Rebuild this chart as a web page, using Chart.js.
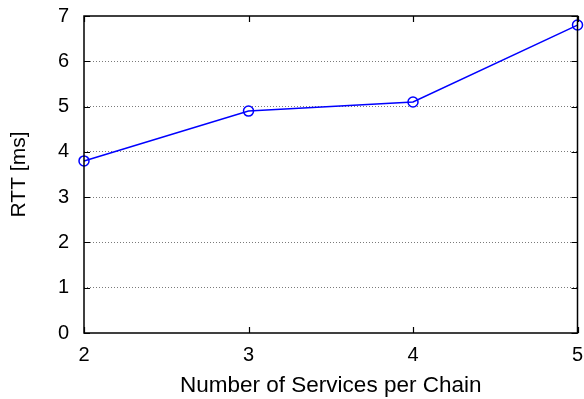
<!DOCTYPE html>
<html>
<head>
<meta charset="utf-8">
<script src="https://cdn.jsdelivr.net/npm/chart.js@4/dist/chart.umd.min.js"></script>
<style>
  html, body { margin: 0; padding: 0; background: #fff; overflow: hidden; }
  #wrap { width: 584px; height: 399px; }
</style>
</head>
<body>
<div id="wrap"><canvas id="c" width="584" height="399"></canvas></div>
<script>
// Round-trip time versus chain length
const servicesPerChain = [2, 3, 4, 5];
const rttMs = [3.8, 4.9, 5.1, 6.8];
const xTicks = [2, 3, 4, 5];
const yTicks = [0, 1, 2, 3, 4, 5, 6, 7];

const FAMILY = '"Liberation Sans", Arial, Helvetica, sans-serif';
const TICK_FONT = { family: FAMILY, size: 20 };
const Y_TITLE_FONT = { family: FAMILY, size: 21 };
const X_TITLE_FONT = { family: FAMILY, size: 22.5 };
const TICK_LEN = 6;

// Frame around the plot area and gnuplot-style inward tick marks
const framePlugin = {
  id: 'frame',
  afterDatasetsDraw(chart) {
    const { ctx, chartArea: a, scales } = chart;
    ctx.save();
    ctx.strokeStyle = '#000';
    ctx.lineWidth = 1.2;
    ctx.beginPath();
    scales.y.ticks.forEach(t => {
      const y = Math.round(scales.y.getPixelForValue(t.value)) + 0.5;
      ctx.moveTo(a.left, y); ctx.lineTo(a.left + TICK_LEN, y);
      ctx.moveTo(a.right, y); ctx.lineTo(a.right - TICK_LEN, y);
    });
    scales.x.ticks.forEach(t => {
      const x = Math.round(scales.x.getPixelForValue(t.value)) + 0.5;
      ctx.moveTo(x, a.bottom); ctx.lineTo(x, a.bottom - TICK_LEN);
      ctx.moveTo(x, a.top); ctx.lineTo(x, a.top + TICK_LEN);
    });
    ctx.stroke();
    ctx.lineWidth = 1.5;
    ctx.strokeRect(a.left, a.top, a.right - a.left, a.bottom - a.top);
    ctx.restore();
  }
};

new Chart(document.getElementById('c'), {
  type: 'line',
  data: {
    datasets: [{
      data: servicesPerChain.map((x, i) => ({ x, y: rttMs[i] })),
      borderColor: '#0000ff',
      borderWidth: 1.5,
      pointStyle: 'circle',
      pointRadius: 5,
      pointBorderWidth: 1.5,
      pointBorderColor: '#0000ff',
      pointBackgroundColor: 'rgba(0,0,0,0)',
      fill: false,
      tension: 0,
      clip: false
    }]
  },
  options: {
    responsive: false,
    animation: false,
    events: [],
    layout: { padding: { left: 0, right: 6, top: 16, bottom: 0 } },
    plugins: { legend: { display: false }, tooltip: { enabled: false } },
    scales: {
      x: {
        type: 'linear',
        min: 2, max: 5,
        afterBuildTicks(s) { s.ticks = xTicks.map(v => ({ value: v })); },
        afterFit(s) { s.paddingLeft = 0; s.paddingRight = 0; s.height = 66; },
        grid: { display: false, drawTicks: false },
        border: { display: false },
        ticks: { color: '#000', font: TICK_FONT, padding: 10, maxRotation: 0 },
        title: {
          display: true,
          text: 'Number of Services per Chain',
          color: '#000',
          font: X_TITLE_FONT,
          padding: { top: 3, bottom: 0 }
        }
      },
      y: {
        min: 0, max: 7,
        afterBuildTicks(s) { s.ticks = yTicks.map(v => ({ value: v })); },
        afterFit(s) { s.width = 84; s.paddingTop = 0; s.paddingBottom = 0; },
        grid: {
          drawTicks: false,
          color: (c) => (c.tick.value === 0 || c.tick.value === 7) ? 'rgba(0,0,0,0)' : '#7a7a7a',
          lineWidth: 1
        },
        border: { display: false, dash: [1, 2] },
        ticks: { color: '#000', font: TICK_FONT, padding: 15 },
        title: {
          display: true,
          text: 'RTT [ms]',
          color: '#000',
          font: Y_TITLE_FONT,
          padding: { top: 7, bottom: 0 }
        }
      }
    }
  },
  plugins: [framePlugin]
});
</script>
</body>
</html>
